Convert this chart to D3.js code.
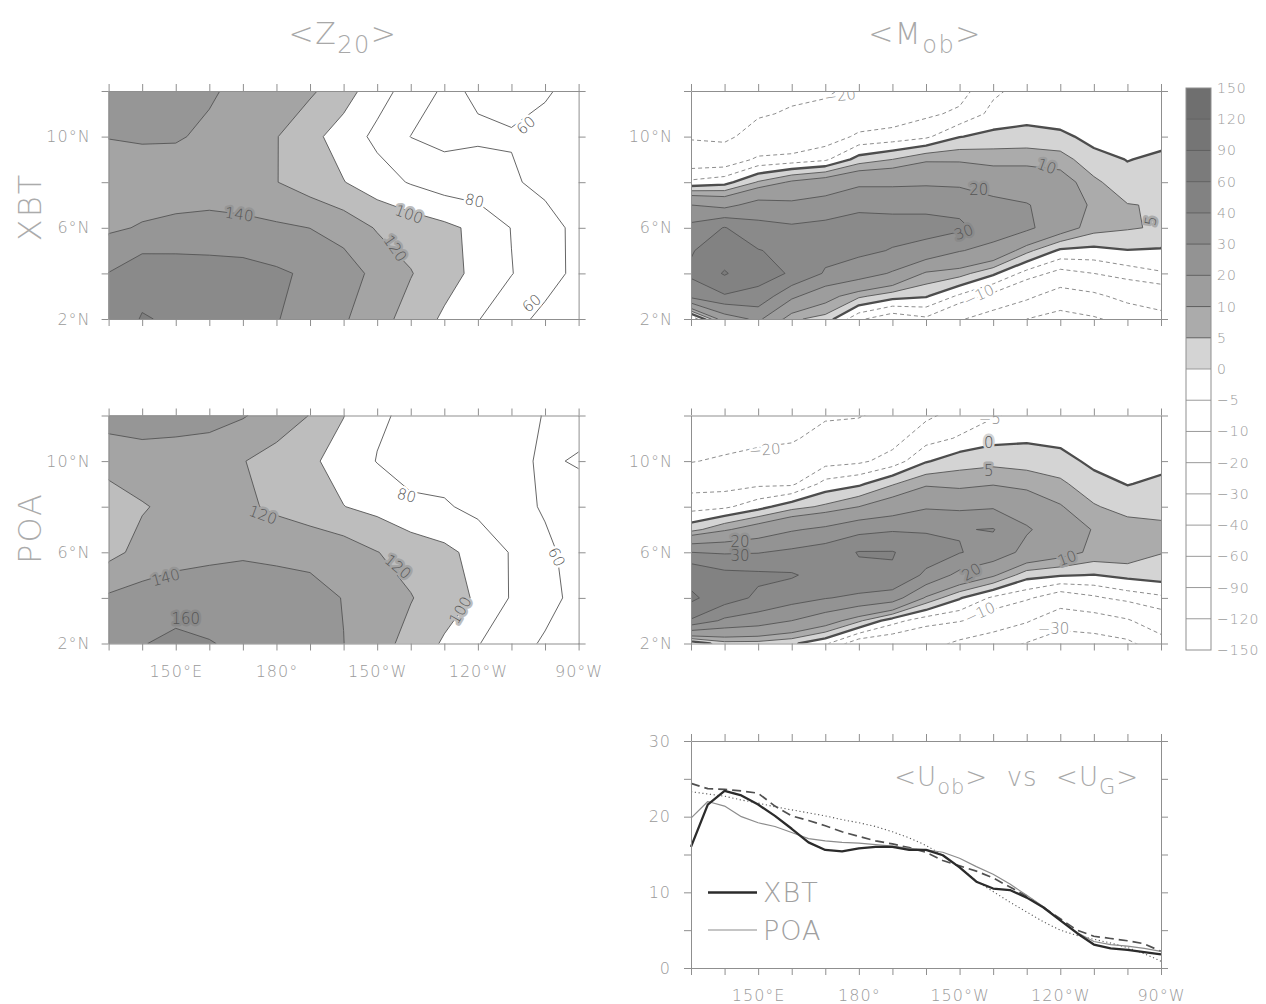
<!DOCTYPE html>
<html>
<head>
<meta charset="utf-8">
<script src="https://cdn.jsdelivr.net/npm/d3@7"></script>
<style>
  body { margin: 0; background: #fff; }
  svg text { font-family: "DejaVu Sans", "Liberation Sans", sans-serif; font-weight: 200; }
</style>
</head>
<body>
<svg id="chart" width="1266" height="1004"></svg>
<script>
/* Four lon-lat contour maps (<Z20>, <Mob>), a shade bar and a zonal line plot. */

// grid nodes of the contour maps
var gridLons = [130, 140, 150, 160, 170, 180, 190, 200, 210, 220, 230, 240, 250, 260, 270];
var z20Lats = [2, 4, 6, 8, 10, 12];
var mobLats = [2, 3, 4, 5, 6, 7, 8, 9, 10, 11, 12];

// <Z20> (m), one row per latitude (2N..12N), columns follow gridLons
var z20XbtRows = [
  [170, 181, 178, 172, 166, 161, 151.6, 142.3, 127.8, 112.1, 96.8, 81, 66.6, 55, 52],
  [160.5, 174, 172, 170, 168, 163, 156.8, 150, 134, 121, 107.9, 94.5, 80.7, 68, 55],
  [137, 141.5, 144, 145, 145, 143, 139.8, 132, 118.3, 111.5, 104.7, 95.2, 79.4, 66, 56],
  [131, 130, 131, 132, 128, 120.5, 110.5, 100.7, 88.6, 78.4, 70, 67.4, 61.9, 56, 54],
  [140.5, 142, 141.5, 137, 129, 120.8, 106, 90.8, 75.3, 59.7, 55, 58, 59, 57, 56],
  [152, 152, 148, 142, 135.6, 130.6, 123, 108.9, 88, 71.8, 57, 62, 64, 61, 57]
];
var z20PoaRows = [
  [152, 159, 165, 161, 156, 152, 147, 140.2, 127.5, 113.5, 97.4, 81, 68.1, 57.5, 52],
  [143, 148, 150, 150, 149, 147, 145, 139.5, 130, 121, 109.7, 97.1, 78.4, 66.6, 54],
  [114, 126, 133, 136, 138, 137, 136, 131, 120.5, 112.6, 104.7, 93.8, 78.5, 63.8, 53],
  [113, 118.5, 125, 127, 124, 116, 108.2, 100.4, 94.3, 84, 82.2, 74.75, 66.4, 58.1, 55],
  [125, 131, 131, 130, 120.8, 112, 103.6, 91.7, 79.3, 72, 71, 66.8, 62.7, 58.5, 61],
  [150, 150, 148, 146, 141.5, 131.5, 119.4, 100.5, 82.5, 76.5, 72.4, 68.2, 64.1, 59.5, 56]
];

// <Mob>, one column per longitude (gridLons), values from 2N up to 12N
var mobXbtCols = [
  [-10, 33, 42, 39, 33, 20, -4, -14, -21, -24, -27],
  [15, 38, 62, 48, 40.5, 17, -2, -14, -22, -25, -27],
  [22, 37, 44, 40.5, 33, 24, 5.5, -9, -16, -21, -24],
  [6, 22, 39, 37, 31.5, 22, 11, -8, -16, -19, -22],
  [3, 13, 29, 33, 33, 24, 14, -6, -13, -18, -21],
  [-9, 6, 25, 32, 34, 28, 18, 2, -9, -14, -18],
  [-14, 2, 19, 29.5, 33, 28, 18, 5, -8, -13, -16],
  [-11, 0.5, 9, 27, 33, 28, 18.5, 9, -6, -11, -14],
  [-19, -6, 7, 20.5, 32, 27, 18, 9, -0.2, -9, -12],
  [-25, -12, 1, 17, 25, 23, 15, 8, 1.5, -3.5, -6],
  [-30, -18, -7, 6.5, 22, 20.5, 15, 8, 2, -2, -3],
  [-33, -25, -12, -1, 14, 16, 13.5, 7, 1.5, -3.5, -4],
  [-31, -22, -10, -1.5, 7, 8.5, 6, 2, -2, -3, -3.5],
  [-27, -17, -7.5, -0.2, 5.5, 5.2, 2, -0.2, -1.5, -2, -2.5],
  [-23, -15, -5.5, -0.5, 4.4, 4.6, 3, 1, -1.7, -2.3, -2.6]
];
var mobPoaCols = [
  [-4, 38, 65, 50, 30, 3, -7, -12, -20.5, -25, -28],
  [3, 28, 45, 43, 29, 9, -6, -12, -18.5, -24, -27],
  [3, 25, 38, 42, 29.5, 14, -2, -11, -17, -22, -25],
  [1, 20, 34, 41, 32, 19, 3, -11, -16, -21, -24],
  [-4, 14, 30.5, 36, 35, 22, 6, -3.2, -12, -17, -21],
  [-14, 6, 28, 38, 40.5, 27, 10, -1, -11, -16, -20.5],
  [-15, -3, 25, 39, 40.5, 29, 14, 4.5, -8, -12, -17],
  [-16, -8, 9, 28, 35, 29, 19, 9, -0.5, -7, -11],
  [-22, -9.5, 0.5, 17, 30.5, 29.5, 18, 8, 3, -4.5, -8],
  [-26, -14, -6, 11, 26, 30.5, 19, 9.5, 3.5, -1.5, -5.5],
  [-30.5, -19, -9, 2, 17, 21, 15.5, 8, 3, -0.8, -3],
  [-34, -27, -14, 0.5, 13, 15, 10.5, 6, 2, -1.5, -2.5],
  [-34, -25, -11, -0.2, 8.5, 9.5, 5.5, 2, -1.3, -2, -2.5],
  [-32, -21, -8, 1.5, 8.5, 7.5, 3, -0.2, -1.5, -2, -2.5],
  [-24, -14, -6, 2.5, 5.2, 6, 3.5, 1, -1.5, -2, -2.5]
];

// contour levels and shades
var z20LineLevels = [60, 80, 100, 120, 140, 160, 180];
var z20ShadeLevels = [100, 120, 140, 160, 180];
var z20Shades = ["#bdbdbd", "#a4a4a4", "#969696", "#8a8a8a", "#7e7e7e"];
var cbLevels = [150, 120, 90, 60, 40, 30, 20, 10, 5, 0, -5, -10, -20, -30, -40, -60, -90, -120, -150];
var cbShades = ["#6f6f6f", "#757575", "#7b7b7b", "#828282", "#8a8a8a", "#939393", "#9d9d9d", "#ababab", "#d4d4d4",
  "#fff", "#fff", "#fff", "#fff", "#fff", "#fff", "#fff", "#fff", "#fff"];
var mobLineLevels = [-60, -40, -30, -20, -10, -5, 0, 5, 10, 20, 30, 40, 60, 90, 120];

// contour labels: level and where it sits on the line
var z20XbtLabels = [
  { level: 140, lon: 168.9, lat: 6.6, angle: 8 },
  { level: 100, lon: 219.5, lat: 6.6, angle: 20 },
  { level: 120, lon: 215.4, lat: 5.1, angle: 55 },
  { level: 80, lon: 239, lat: 7.2, angle: 12 },
  { level: 60, lon: 254.3, lat: 10.5, angle: -40 },
  { level: 60, lon: 256, lat: 2.7, angle: -40 }
];
var z20PoaLabels = [
  { level: 120, lon: 176, lat: 7.64, angle: 20 },
  { level: 120, lon: 216.2, lat: 5.37, angle: 40 },
  { level: 140, lon: 147, lat: 4.9, angle: -15 },
  { level: 160, lon: 153, lat: 3.1, angle: 0 },
  { level: 80, lon: 218.8, lat: 8.5, angle: 15 },
  { level: 100, lon: 234.7, lat: 3.46, angle: -60 },
  { level: 60, lon: 263.5, lat: 5.8, angle: 65 }
];
var mobXbtLabels = [
  { level: -20, lon: 174.4, lat: 11.8, angle: -8 },
  { level: 20, lon: 215.7, lat: 7.66, angle: 0 },
  { level: 10, lon: 236, lat: 8.7, angle: 20 },
  { level: 30, lon: 211.2, lat: 5.82, angle: -20 },
  { level: 5, lon: 266.9, lat: 6.3, angle: -80 },
  { level: -10, lon: 215.7, lat: 3.05, angle: -25 }
];
var mobPoaLabels = [
  { level: -20, lon: 152, lat: 10.5, angle: -5 },
  { level: 20, lon: 144.6, lat: 6.45, angle: 0 },
  { level: 30, lon: 144.6, lat: 5.85, angle: 0 },
  { level: -5, lon: 219, lat: 11.85, angle: 0 },
  { level: 0, lon: 218.7, lat: 10.8, angle: 0 },
  { level: 5, lon: 218.7, lat: 9.6, angle: 0 },
  { level: 20, lon: 213.5, lat: 5.15, angle: -30 },
  { level: 10, lon: 242, lat: 5.75, angle: -20 },
  { level: -10, lon: 216, lat: 3.35, angle: -25 },
  { level: -30, lon: 238, lat: 2.66, angle: 0 }
];

// <Uob> vs <UG> along the band, every 5 degrees
var uLons = [130, 135, 140, 145, 150, 155, 160, 165, 170, 175, 180, 185, 190, 195, 200,
  205, 210, 215, 220, 225, 230, 235, 240, 245, 250, 255, 260, 265, 270];
var uobXbt = [16.0, 21.6, 23.4, 22.8, 21.6, 20.1, 18.4, 16.6, 15.6, 15.4, 15.8, 16.0, 16.0, 15.6, 15.6,
  14.9, 13.3, 11.4, 10.5, 10.3, 9.3, 8.0, 6.3, 4.6, 3.1, 2.6, 2.4, 2.1, 1.8];
var uobPoa = [19.8, 22.0, 21.4, 20.0, 19.2, 18.7, 17.9, 17.1, 16.8, 16.6, 16.5, 16.3, 16.1, 15.8, 15.6,
  15.3, 14.5, 13.4, 12.4, 11.1, 9.6, 8.1, 6.3, 4.7, 3.5, 3.1, 2.9, 2.6, 2.2];
var ugXbt = [24.4, 23.7, 23.6, 23.4, 23.1, 21.4, 20.1, 19.5, 18.8, 18.0, 17.4, 16.8, 16.4, 15.9, 15.3,
  14.2, 13.5, 12.8, 11.9, 10.7, 9.5, 8.0, 6.5, 5.0, 4.2, 3.9, 3.6, 3.2, 2.2];
var ugPoa = [23.3, 23.0, 22.7, 22.2, 21.8, 21.3, 20.9, 20.5, 20.1, 19.6, 19.2, 18.7, 18.0, 17.2, 16.2,
  14.9, 13.3, 11.5, 10.1, 8.7, 7.4, 6.1, 5.0, 4.3, 3.8, 3.3, 2.7, 1.9, 0.9];

// axis ticks and labels
var lonTicks = [130, 140, 150, 160, 170, 180, 190, 200, 210, 220, 230, 240, 250, 260, 270];
var lonLabelVals = [150, 180, 210, 240, 270];
var lonLabelText = ["150°E", "180°", "150°W", "120°W", "90°W"];
var latTicks = [2, 4, 6, 8, 10, 12];
var latLabelVals = [2, 6, 10];
var uTicks = [0, 5, 10, 15, 20, 25, 30];
var uLabelVals = [0, 10, 20, 30];

var svg = d3.select("#chart");
var AXIS = "#8f8f8f", TXT = "#9a9a9a";
var PW = 470, PH = 228;

function fmtLevel(v) {
  return v < 0 ? "\u2212" + Math.abs(v) : String(v);
}

function frame(g, xs, ys, yTicks) {
  var x0 = xs.range()[0], x1 = xs.range()[1];
  var yb = ys.range()[0], yt = ys.range()[1];
  g.append("g").attr("transform", "translate(0," + yb + ")")
    .call(d3.axisBottom(xs).tickValues(lonTicks).tickSize(7).tickSizeOuter(0).tickFormat(""));
  g.append("g").attr("transform", "translate(0," + yt + ")")
    .call(d3.axisTop(xs).tickValues(lonTicks).tickSize(7).tickSizeOuter(0).tickFormat(""));
  g.append("g").attr("transform", "translate(" + x0 + ",0)")
    .call(d3.axisLeft(ys).tickValues(yTicks).tickSize(7).tickSizeOuter(0).tickFormat(""));
  g.append("g").attr("transform", "translate(" + x1 + ",0)")
    .call(d3.axisRight(ys).tickValues(yTicks).tickSize(7).tickSizeOuter(0).tickFormat(""));
  g.selectAll(".domain, .tick line").attr("stroke", AXIS).attr("stroke-width", 1);
}

function lonLabels(g, xs, y) {
  var ax = g.append("g").attr("transform", "translate(0," + y + ")")
    .call(d3.axisBottom(xs).tickValues(lonLabelVals).tickSize(0).tickPadding(22)
      .tickFormat(function (d, i) { return lonLabelText[i]; }));
  ax.select(".domain").remove();
  ax.selectAll("text").attr("fill", TXT).style("font-size", "16px").style("letter-spacing", "1px")
    .style("font-family", null);
}

function latLabels(g, ys, x) {
  var ax = g.append("g").attr("transform", "translate(" + x + ",0)")
    .call(d3.axisLeft(ys).tickValues(latLabelVals).tickSize(0).tickPadding(18)
      .tickFormat(function (d) { return d + "°N"; }));
  ax.select(".domain").remove();
  ax.selectAll("text").attr("fill", TXT).style("font-size", "16px").style("letter-spacing", "1px")
    .style("font-family", null);
}

function contourPanel(o) {
  var xs = d3.scaleLinear().domain([130, 270]).range([o.x, o.x + PW]);
  var ys = d3.scaleLinear().domain([2, 12]).range([o.y + PH, o.y]);
  var nx = gridLons.length, ny = o.lats.length;
  var ix = d3.scaleLinear().domain([0.5, nx - 0.5]).range([gridLons[0], gridLons[nx - 1]]);
  var iy = d3.scaleLinear().domain([0.5, ny - 0.5]).range([o.lats[0], o.lats[ny - 1]]);
  var path = d3.geoPath(d3.geoTransform({
    point: function (a, b) { this.stream.point(xs(ix(a)), ys(iy(b))); }
  }));
  var gen = d3.contours().size([nx, ny]);

  var clipId = "clip-" + o.id;
  svg.append("clipPath").attr("id", clipId).append("rect")
    .attr("x", o.x).attr("y", o.y).attr("width", PW).attr("height", PH);
  var g = svg.append("g").attr("clip-path", "url(#" + clipId + ")");

  o.shades.forEach(function (s) {
    g.append("path").attr("d", path(gen.contour(o.values, s.t))).attr("fill", s.color);
  });
  o.lines.forEach(function (lv) {
    var st = o.lineStyle(lv);
    g.append("path").attr("d", path(gen.contour(o.values, lv)))
      .attr("fill", "none").attr("stroke", st.color).attr("stroke-width", st.width)
      .attr("stroke-dasharray", st.dash || null).attr("stroke-linejoin", "round");
  });

  function place(d) {
    return "translate(" + xs(d.lon) + "," + ys(d.lat) + ") rotate(" + d.angle + ")";
  }
  // halo first (cuts the line), then the number itself
  g.selectAll("text.halo").data(o.labels).join("text")
    .attr("class", "halo").attr("transform", place)
    .attr("text-anchor", "middle").attr("dy", "0.36em")
    .attr("fill", "none").attr("stroke", function (d) { return o.halo(d.level); })
    .attr("stroke-width", 5).attr("stroke-linejoin", "round")
    .style("font-size", "15px")
    .text(function (d) { return fmtLevel(d.level); });
  g.selectAll("text.clab").data(o.labels).join("text")
    .attr("class", "clab").attr("transform", place)
    .attr("text-anchor", "middle").attr("dy", "0.36em")
    .attr("fill", function (d) { return d.level < 0 ? "#8a8a8a" : "#555"; })
    .style("font-size", "15px")
    .text(function (d) { return fmtLevel(d.level); });

  frame(svg.append("g"), xs, ys, latTicks);
  return { xs: xs, ys: ys };
}

// flatten grids for d3.contours (row index = latitude)
function rowsToValues(rows) {
  return [].concat.apply([], rows);
}
function colsToValues(cols) {
  var out = [];
  for (var j = 0; j < cols[0].length; j++) {
    for (var i = 0; i < cols.length; i++) out.push(cols[i][j]);
  }
  return out;
}

var z20Fill = z20ShadeLevels.map(function (t, i) { return { t: t, color: z20Shades[i] }; });
function z20Halo(lv) {
  var i = z20ShadeLevels.indexOf(lv);
  return i < 0 ? "#fff" : z20Shades[i];
}
function z20Style() { return { color: "#555", width: 0.9 }; }

var mobFill = [];
for (var b = 0; b < cbShades.length; b++) {
  if (cbShades[b] !== "#fff") mobFill.push({ t: cbLevels[b + 1], color: cbShades[b] });
}
mobFill.reverse();
function mobHalo(lv) {
  var i = cbLevels.indexOf(lv);
  return lv < 0 || i < 1 ? "#fff" : cbShades[i - 1];
}
function mobStyle(lv) {
  if (lv < 0) return { color: "#8d8d8d", width: 1, dash: "4,3" };
  if (lv === 0) return { color: "#4d4d4d", width: 2.3 };
  return { color: "#555", width: 0.9 };
}

var LEFT_X = 108.6, RIGHT_X = 691, ROW_Y = [91, 415.5];

var pZx = contourPanel({ id: "z20x", x: LEFT_X, y: ROW_Y[0], lats: z20Lats, values: rowsToValues(z20XbtRows),
  shades: z20Fill, lines: z20LineLevels, lineStyle: z20Style, halo: z20Halo, labels: z20XbtLabels });
var pZp = contourPanel({ id: "z20p", x: LEFT_X, y: ROW_Y[1], lats: z20Lats, values: rowsToValues(z20PoaRows),
  shades: z20Fill, lines: z20LineLevels, lineStyle: z20Style, halo: z20Halo, labels: z20PoaLabels });
var pMx = contourPanel({ id: "mobx", x: RIGHT_X, y: ROW_Y[0], lats: mobLats, values: colsToValues(mobXbtCols),
  shades: mobFill, lines: mobLineLevels, lineStyle: mobStyle, halo: mobHalo, labels: mobXbtLabels });
var pMp = contourPanel({ id: "mobp", x: RIGHT_X, y: ROW_Y[1], lats: mobLats, values: colsToValues(mobPoaCols),
  shades: mobFill, lines: mobLineLevels, lineStyle: mobStyle, halo: mobHalo, labels: mobPoaLabels });

var txt = svg.append("g");
latLabels(txt, pZx.ys, LEFT_X);
latLabels(txt, pZp.ys, LEFT_X);
latLabels(txt, pMx.ys, RIGHT_X);
latLabels(txt, pMp.ys, RIGHT_X);
lonLabels(txt, pZp.xs, ROW_Y[1] + PH);

// column titles
function title(x, y, main, sub) {
  var t = svg.append("text").attr("x", x).attr("y", y).attr("text-anchor", "middle")
    .attr("fill", "#a8a8a8").style("font-size", "30px").style("letter-spacing", "1.5px");
  t.append("tspan").text("<" + main);
  t.append("tspan").attr("dy", 9).style("font-size", "24px").text(sub);
  t.append("tspan").attr("dy", -9).text(">");
}
title(343, 44, "Z", "20");
title(925, 44, "M", "ob");

// row titles
[["XBT", 207], ["POA", 528]].forEach(function (r) {
  svg.append("text").attr("transform", "translate(41," + r[1] + ") rotate(-90)")
    .attr("text-anchor", "middle").attr("fill", "#ababab")
    .style("font-size", "32px").style("letter-spacing", "2px").text(r[0]);
});

// shade bar
var cbX = 1186, cbW = 25;
var cbY = d3.scalePoint().domain(cbLevels).range([88, 650]);
var cb = svg.append("g");
cbLevels.slice(0, -1).forEach(function (lv, i) {
  cb.append("rect").attr("x", cbX).attr("y", cbY(lv)).attr("width", cbW)
    .attr("height", cbY(cbLevels[i + 1]) - cbY(lv)).attr("fill", cbShades[i]);
});
cbLevels.slice(1, -1).forEach(function (lv, i) {
  cb.append("line").attr("x1", cbX).attr("x2", cbX + cbW).attr("y1", cbY(lv)).attr("y2", cbY(lv))
    .attr("stroke", i < 8 ? "#5e5e5e" : "#9a9a9a").attr("stroke-width", 1);
});
cb.append("rect").attr("x", cbX).attr("y", 88).attr("width", cbW).attr("height", 562)
  .attr("fill", "none").attr("stroke", AXIS);
var cbAx = cb.append("g").attr("transform", "translate(" + (cbX + cbW) + ",0)")
  .call(d3.axisRight(cbY).tickSize(0).tickPadding(6).tickFormat(fmtLevel));
cbAx.select(".domain").remove();
cbAx.selectAll("text").attr("fill", TXT).style("font-size", "14px").style("letter-spacing", "1px")
  .style("font-family", null);

// line plot
var lx = d3.scaleLinear().domain([130, 270]).range([RIGHT_X, RIGHT_X + PW]);
var ly = d3.scaleLinear().domain([0, 30]).range([968, 741]);
var lg = svg.append("g");
var series = [
  { v: ugPoa, color: "#5a5a5a", width: 1.1, dash: "1.2,2.6" },
  { v: ugXbt, color: "#505050", width: 1.7, dash: "9,5" },
  { v: uobPoa, color: "#8c8c8c", width: 1.2 },
  { v: uobXbt, color: "#2b2b2b", width: 2.3 }
];
var line = d3.line().x(function (d, i) { return lx(uLons[i]); }).y(function (d) { return ly(d); });
series.forEach(function (s) {
  lg.append("path").datum(s.v).attr("d", line).attr("fill", "none")
    .attr("stroke", s.color).attr("stroke-width", s.width)
    .attr("stroke-dasharray", s.dash || null).attr("stroke-linejoin", "round");
});
frame(lg, lx, ly, uTicks);
lonLabels(lg, lx, 968);
var uAx = lg.append("g").attr("transform", "translate(" + RIGHT_X + ",0)")
  .call(d3.axisLeft(ly).tickValues(uLabelVals).tickSize(0).tickPadding(20));
uAx.select(".domain").remove();
uAx.selectAll("text").attr("fill", TXT).style("font-size", "16px").style("letter-spacing", "1px")
  .style("font-family", null);

var lt = lg.append("text").attr("x", 1139).attr("y", 786).attr("text-anchor", "end")
  .attr("fill", "#a8a8a8").style("font-size", "26px").style("letter-spacing", "1px");
lt.append("tspan").text("<U");
lt.append("tspan").attr("dy", 8).style("font-size", "21px").text("ob");
lt.append("tspan").attr("dy", -8).text(">\u00a0 vs \u00a0<U");
lt.append("tspan").attr("dy", 8).style("font-size", "21px").text("G");
lt.append("tspan").attr("dy", -8).text(">");

[["XBT", 892.5, "#2b2b2b", 2.3], ["POA", 930, "#8c8c8c", 1.2]].forEach(function (r) {
  lg.append("line").attr("x1", 708).attr("x2", 757).attr("y1", r[1]).attr("y2", r[1])
    .attr("stroke", r[2]).attr("stroke-width", r[3]);
  lg.append("text").attr("x", 763).attr("y", r[1] + 9.5).attr("fill", "#a0a0a0")
    .style("font-size", "27px").style("letter-spacing", "1px").text(r[0]);
});
</script>
</body>
</html>
